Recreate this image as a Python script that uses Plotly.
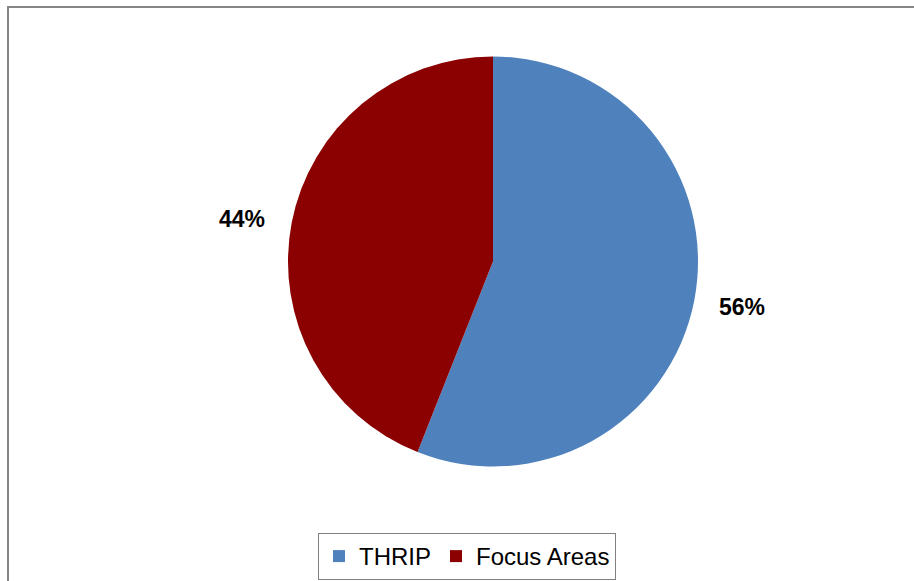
import plotly.graph_objects as go

labels = ["THRIP", "Focus Areas"]
values = [56, 44]
colors = ["#4F81BD", "#8B0000"]

W, H = 914, 581
FONT = "Arial, 'Liberation Sans', sans-serif"

# pie placement (pixels)
cx, cy, r = 493, 261.5, 205

fig = go.Figure()
fig.add_trace(go.Pie(
    labels=labels, values=values,
    marker=dict(colors=colors, line=dict(width=0)),
    sort=False, direction="clockwise", rotation=0,
    textinfo="none", hoverinfo="skip",
    domain=dict(x=[(cx - r) / W, (cx + r) / W],
                y=[(H - cy - r) / H, (H - cy + r) / H]),
))

# percentage labels
label_pos = {"THRIP": (742, 306.5), "Focus Areas": (242, 219)}
total = sum(values)
for lab, v in zip(labels, values):
    px, py = label_pos[lab]
    fig.add_annotation(
        x=px / W, y=(H - py) / H, xref="paper", yref="paper",
        text=f"<b>{round(100 * v / total)}%</b>", showarrow=False,
        font=dict(family=FONT, size=23, color="#000000"),
        xanchor="center", yanchor="middle",
    )

# chart area border
fig.add_shape(type="rect", xref="paper", yref="paper",
              x0=8 / W, x1=1.05, y0=-0.05, y1=(H - 7) / H,
              line=dict(color="#868686", width=2), fillcolor="rgba(0,0,0,0)")

fig.update_layout(
    width=W, height=H,
    margin=dict(l=0, r=0, t=0, b=0),
    paper_bgcolor="white", plot_bgcolor="white",
    showlegend=True,
    legend=dict(
        orientation="h", x=467 / W, xanchor="center",
        y=(H - 533) / H, yanchor="top",
        font=dict(family=FONT, size=24, color="#000000"),
        bordercolor="#808080", borderwidth=1, bgcolor="white",
        itemsizing="constant", itemwidth=30,
    ),
)

fig.write_html("out.html")
